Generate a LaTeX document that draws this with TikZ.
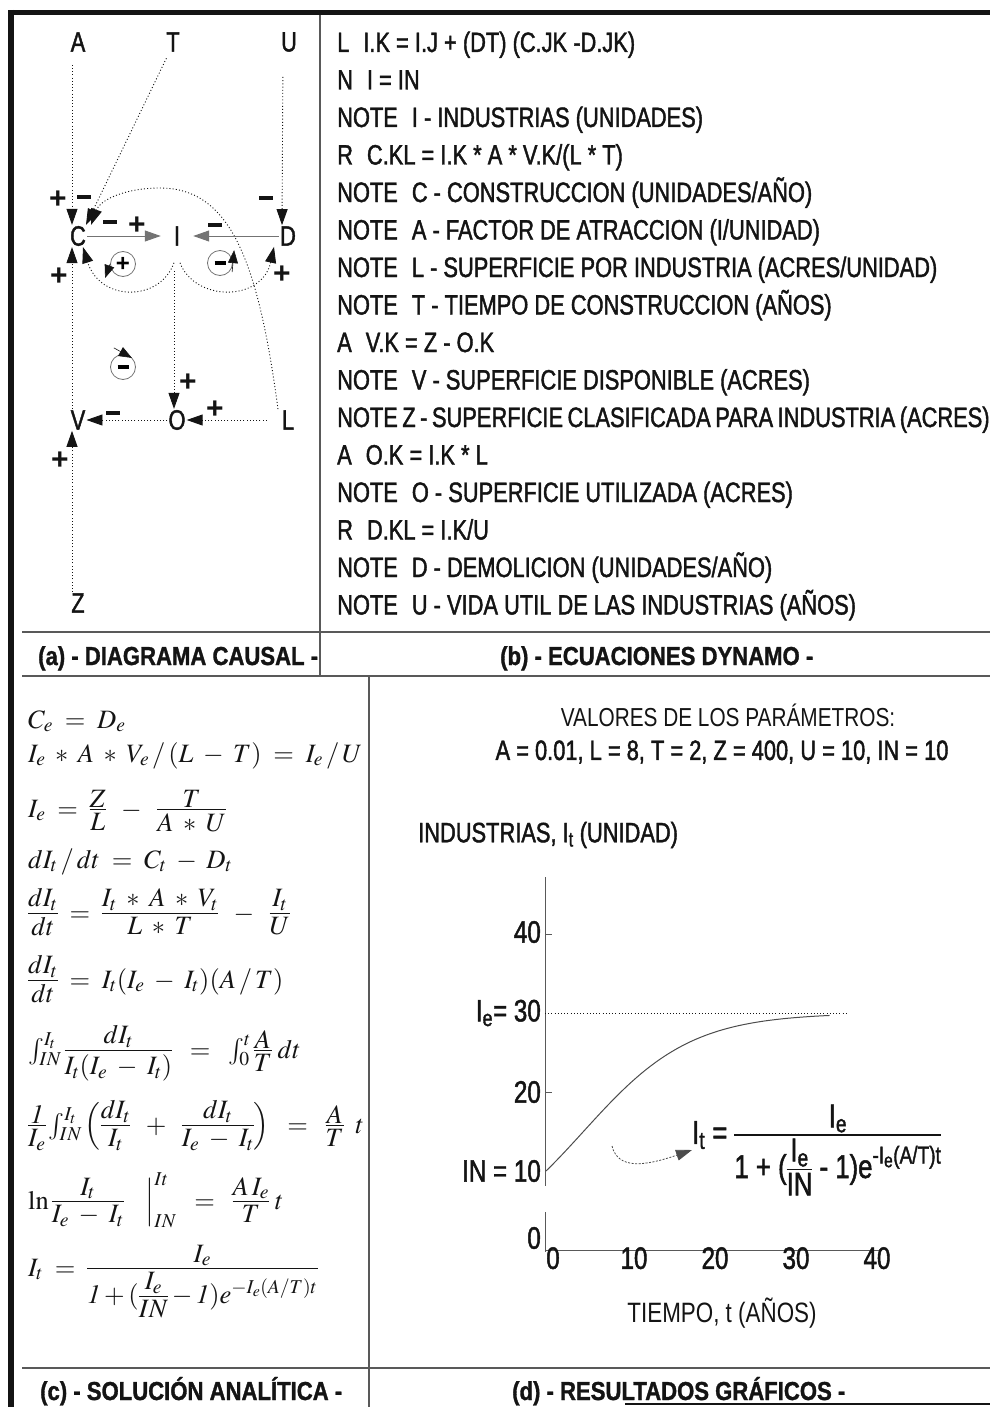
\documentclass[tikz,border=0pt]{standalone}
\usepackage{amsmath}
\usepackage{mathptmx}
\usepackage[no-math]{fontspec}
\setmainfont{Liberation Sans}[FakeStretch=0.78,FakeBold=1.5]
\newfontfamily\capfont{Liberation Sans}[FakeStretch=0.85,FakeBold=1.2]
\newfontfamily\signfont{Liberation Sans}
\newfontfamily\lightfont{Liberation Sans}[FakeStretch=0.8]
\usetikzlibrary{
  arrows.meta,
  positioning,
  calc
}
\definecolor{InkBlack}{gray}{0.08}
\definecolor{RuleGray}{gray}{0.35}
\definecolor{LinkGray}{gray}{0.45}
\definecolor{CurveGray}{gray}{0.3}
\newcommand{\mns}{\rule{14pt}{4pt}}
\makeatletter
\newcommand{\fr}[2]{\mathord{\setbox0\hbox{$#1$}\setbox2\hbox{$#2$}%
  \dimen@\wd0 \ifdim\wd2>\dimen@ \dimen@\wd2 \fi
  \raise\fontdimen22\textfont2\hbox{%
    \vbox{\hbox to\dimen@{\hfil\box0\hfil}\kern2pt\hrule height 1.2pt width\dimen@}%
    \kern-\dimen@
    \vtop{\kern3pt\hbox to\dimen@{\hfil\box2\hfil}}}}}
\makeatother
\newcommand{\as}{\mathbin{\mathrm{*}}}
\tikzset{
  varnode/.style={font=\fontsize{28}{28}\selectfont,inner sep=1pt,text=InkBlack},
  signnode/.style={font=\signfont\bfseries\fontsize{30}{30}\selectfont,inner sep=0pt,text=InkBlack},
  causal/.style={-{Triangle[length=16pt,width=11pt]},line width=0.9pt,dash pattern=on 1pt off 2.2pt,draw=InkBlack},
  direct/.style={-{Triangle[length=16pt,width=11pt]},line width=1pt,draw=LinkGray},
  loopmark/.style={circle,draw=LinkGray,line width=0.8pt,minimum size=25pt,inner sep=0pt,font=\signfont\bfseries\fontsize{24}{24}\selectfont},
  looptip/.style={-{Triangle[length=13pt,width=10pt]},line width=0.6pt,draw=InkBlack},
  dynline/.style={anchor=base west,inner sep=0pt,font=\fontsize{28}{28}\selectfont,text=InkBlack},
  caption/.style={anchor=base west,inner sep=0pt,font=\capfont\bfseries\fontsize{26}{26}\selectfont,text=InkBlack},
  eqline/.style={anchor=base west,inner sep=0pt,font=\fontsize{26.5}{32}\selectfont,text=InkBlack},
  graphlabel/.style={inner sep=0pt,font=\fontsize{28}{28}\selectfont,text=InkBlack},
  ticklabel/.style={inner sep=0pt,font=\fontsize{31}{31}\selectfont,text=InkBlack},
  panelrule/.style={line width=1.2pt,draw=RuleGray},
  border/.style={line width=6pt,draw=InkBlack},
  axisline/.style={line width=1pt,draw=RuleGray},
  levelline/.style={line width=0.9pt,dash pattern=on 1pt off 2.2pt,draw=InkBlack},
  curveline/.style={line width=1pt,draw=CurveGray},
  pointer/.style={-{Triangle[length=16pt,width=11pt]},line width=0.8pt,dash pattern=on 2pt off 1.5pt,draw=CurveGray}
}

\begin{document}
\begin{tikzpicture}[x=1pt,y=-1pt]
\useasboundingbox (0,0) rectangle (990,1407);

% frame and panel rules
\draw[border] (11,10) -- (11,1407);
\draw[line width=5pt,draw=InkBlack] (8,13) -- (990,13);
\draw[panelrule] (320,15) -- (320,676);
\draw[panelrule] (22,632) -- (990,632);
\draw[panelrule] (22,676) -- (990,676);
\draw[panelrule] (369,676) -- (369,1407);
\draw[panelrule] (22,1368) -- (990,1368);
\draw[line width=2pt,draw=InkBlack] (625,1404) -- (990,1404);

% (a) causal diagram
\node[varnode] (A) at (78,42) {A};
\node[varnode] (T) at (173,42) {T};
\node[varnode] (U) at (289,42) {U};
\node[varnode] (C) at (78,236) {C};
\node[varnode] (I) at (177,236) {I};
\node[varnode] (D) at (288,236) {D};
\node[varnode] (V) at (78,420) {V};
\node[varnode] (O) at (177,420) {O};
\node[varnode] (L) at (288,420) {L};
\node[varnode] (Z) at (78,603) {Z};

\draw[causal, shorten <=12pt] ([xshift=-6pt]A.south) -- ([xshift=-6pt]C.north);
\draw[causal, shorten <=6pt] ([xshift=-4pt]T.south) -- ([xshift=8pt]C.north);
\draw[causal] ([xshift=-10pt]L.north) .. controls (258,260) and (230,188) .. (160,188)
  .. controls (125,188) and (100,200) .. ([xshift=4pt]C.north east);
\draw[direct, shorten >=12pt] (C.east) -- (I.west);
\draw[direct, shorten >=12pt] (D.west) -- (I.east);
\draw[causal, shorten <=24pt] ([xshift=-6pt]U.south) -- ([xshift=-6pt]D.north);
\draw[causal] ([xshift=-3pt,yshift=-16pt]I.south) .. controls (160,302) and (100,302) .. ([xshift=5pt]C.south);
\draw[causal] ([xshift=3pt,yshift=-16pt]I.south) .. controls (195,302) and (262,302) .. ([xshift=-14pt]D.south);
\draw[causal] ([xshift=-6pt]V.north) -- ([xshift=-6pt]C.south);
\draw[causal, shorten <=24pt] ([xshift=-3pt]I.south) -- ([xshift=-3pt]O.north);
\draw[causal, shorten <=14pt] (L.west) -- (O.east);
\draw[causal] (O.west) -- (V.east);
\draw[causal] ([xshift=-6pt]Z.north) -- ([xshift=-6pt]V.south);

% link signs
\node[signnode] (sAC) at (58,200) {+};
\node[signnode] (sTC) at (84,197) {\mns};
\node[signnode] (sLC) at (110,222) {\mns};
\node[signnode] (sCI) at (137,226) {+};
\node[signnode] (sDI) at (215,225) {\mns};
\node[signnode] (sUD) at (266,198) {\mns};
\node[signnode] (sVC) at (59,277) {+};
\node[signnode] (sID) at (282,275) {+};
\node[signnode] (sIO) at (188,383) {+};
\node[signnode] (sLO) at (215,410) {+};
\node[signnode] (sOV) at (113,413) {\mns};
\node[signnode] (sZV) at (60,461) {+};

% loop polarity marks
\node[loopmark] (loopCI) at (123,264) {+};
\draw[looptip] (loopCI.west) -- ++(-5,14);
\node[loopmark] (loopID) at (220,263) {\rule{11pt}{3.5pt}};
\draw[looptip] ([xshift=3pt]loopID.south east) -- ++(2,-22);
\node[loopmark] (loopIOV) at (123,367) {\rule{11pt}{3.5pt}};
\draw[looptip] ([yshift=10pt]loopIOV.north west) -- ++(18,10);

% (b) dynamo equations
\node[dynline] (dl1) at (337,52) {L\enspace I.K = I.J + (DT) (C.JK -D.JK)};
\node[dynline] (dl2) at (337,89.5) {N\enspace I = IN};
\node[dynline] (dl3) at (337,127) {NOTE\enspace I - INDUSTRIAS (UNIDADES)};
\node[dynline] (dl4) at (337,164.5) {R\enspace C.KL = I.K * A * V.K/(L * T)};
\node[dynline] (dl5) at (337,202) {NOTE\enspace C - CONSTRUCCION (UNIDADES/AÑO)};
\node[dynline] (dl6) at (337,239.5) {NOTE\enspace A - FACTOR DE ATRACCION (I/UNIDAD)};
\node[dynline] (dl7) at (337,277) {NOTE\enspace L - SUPERFICIE POR INDUSTRIA (ACRES/UNIDAD)};
\node[dynline] (dl8) at (337,314.5) {NOTE\enspace T - TIEMPO DE CONSTRUCCION (AÑOS)};
\node[dynline] (dl9) at (337,352) {A\enspace V.K = Z - O.K};
\node[dynline] (dl10) at (337,389.5) {NOTE\enspace V - SUPERFICIE DISPONIBLE (ACRES)};
\node[dynline] (dl11) at (337,427) {\spaceskip=4.5pt\relax NOTE Z - SUPERFICIE CLASIFICADA PARA INDUSTRIA (ACRES)};
\node[dynline] (dl12) at (337,464.5) {A\enspace O.K = I.K * L};
\node[dynline] (dl13) at (337,502) {NOTE\enspace O - SUPERFICIE UTILIZADA (ACRES)};
\node[dynline] (dl14) at (337,539.5) {R\enspace D.KL = I.K/U};
\node[dynline] (dl15) at (337,577) {NOTE\enspace D - DEMOLICION (UNIDADES/AÑO)};
\node[dynline] (dl16) at (337,614.5) {NOTE\enspace U - VIDA UTIL DE LAS INDUSTRIAS (AÑOS)};

% captions
\node[caption] (capA) at (38,665) {(a) - DIAGRAMA CAUSAL -};
\node[caption] (capB) at (500,665) {(b) - ECUACIONES DYNAMO -};
\node[caption] (capC) at (40,1400) {(c) - SOLUCIÓN ANALÍTICA -};
\node[caption] (capD) at (512,1400) {(d) - RESULTADOS GRÁFICOS -};

% (c) analytic solution
\node[eqline] (eq1) at (28,728) {$C_e \;=\; D_e$};
\node[eqline] (eq2) at (28,762) {$I_e \;\as\; A \;\as\; V_e\,/\,(L\;-\;T) \;=\; I_e\,/\,U$};
\node[eqline] (eq3) at (28,817) {$I_e \;=\; \fr{Z}{L} \;\;-\;\; \fr{T}{A \;\as\; U}$};
\node[eqline] (eq4) at (28,868) {$dI_t\,/\,dt \;=\; C_t \;-\; D_t$};
\node[eqline] (eq5) at (28,921) {$\fr{dI_t}{dt} \;=\; \fr{I_t \;\as\; A \;\as\; V_t}{L \;\as\; T} \;\;-\;\; \fr{I_t}{U}$};
\node[eqline] (eq6) at (28,988) {$\fr{dI_t}{dt} \;=\; I_t(I_e \;-\; I_t)(A\,/\,T)$};
\node[eqline] (eq7) at (28,1058) {$\int_{IN}^{I_t}\fr{dI_t}{I_t(I_e \;-\; I_t)} \;\;=\;\; \int_0^{t}\fr{A}{T}\;dt$};
\node[eqline] (eq8) at (28,1133) {$\fr{\mathit{1}}{I_e}\int_{IN}^{I_t}\left(\fr{dI_t}{I_t} \;\;+\;\; \fr{dI_t}{I_e \;-\; I_t}\right) \;\;=\;\; \fr{A}{T}\;\;t$};
\node[eqline] (eq9) at (28,1209) {$\ln\fr{I_t}{I_e \;-\; I_t}\;\;\;\left.\vphantom{\fr{I_t}{I_e}}\right|_{IN}^{It} \;\;=\;\; \fr{A\,I_e}{T}\;t$};
\node[eqline] (eq10) at (28,1276) {$I_t \;=\; \fr{I_e}{\mathit{1} + (\fr{I_e}{IN} - \mathit{1})e^{-I_e(A/T)t}}$};

% (d) graphic results
\node[graphlabel, font=\lightfont\fontsize{26}{26}\selectfont] (parT) at (728,715) {VALORES DE LOS PARÁMETROS:};
\node[graphlabel] (parV) at (722,752) {A = 0.01, L = 8, T = 2, Z = 400, U = 10, IN = 10};
\node[graphlabel, anchor=west] (yname) at (418,835) {INDUSTRIAS, I\textsubscript{t} (UNIDAD)};
\node[graphlabel, font=\lightfont\fontsize{28}{28}\selectfont] (xname) at (722,1313) {TIEMPO, t (AÑOS)};

\draw[axisline] (545,877) -- (545,1186);
\draw[axisline] (545,1212) -- (545,1252);
\draw[axisline] (545,1250) -- (882,1250);
\draw[axisline] (545,934) -- (552,934);
\draw[axisline] (545,1092) -- (552,1092);
\draw[levelline] (545,1013) -- (848,1013);
\draw[curveline] plot[domain=0:35,samples=80] ({546+8.1*\x},{1250-7.9*30/(1+2*exp(-0.15*\x))});

\node[ticklabel, anchor=east] (y40) at (541,932) {40};
\node[ticklabel, anchor=east] (y30) at (541,1013) {I\textsubscript{e}= 30};
\node[ticklabel, anchor=east] (y20) at (541,1092) {20};
\node[ticklabel, anchor=east] (y10) at (541,1171) {IN = 10};
\node[ticklabel, anchor=east] (y0) at (541,1238) {0};
\node[ticklabel, anchor=north] (x0) at (553,1247) {0};
\node[ticklabel, anchor=north] (x10) at (634,1247) {10};
\node[ticklabel, anchor=north] (x20) at (715,1247) {20};
\node[ticklabel, anchor=north] (x30) at (796,1247) {30};
\node[ticklabel, anchor=north] (x40) at (877,1247) {40};

\node[ticklabel, anchor=west, font=\fontsize{33}{33}\selectfont] (fIt) at (692,1150)
  {$\text{I}_\text{t}\text{ = }\fr{\text{I}_\text{e}}{\text{1 + (}\fr{\text{I}_\text{e}}{\text{IN}}\text{ - 1)e}^{\text{-I}_\text{e}\text{(A/T)t}}}$};
\coordinate (cstart) at (612,1146);
\draw[pointer] (cstart) .. controls (618,1170) and (645,1166) .. (fIt.west);
\end{tikzpicture}
\end{document}
